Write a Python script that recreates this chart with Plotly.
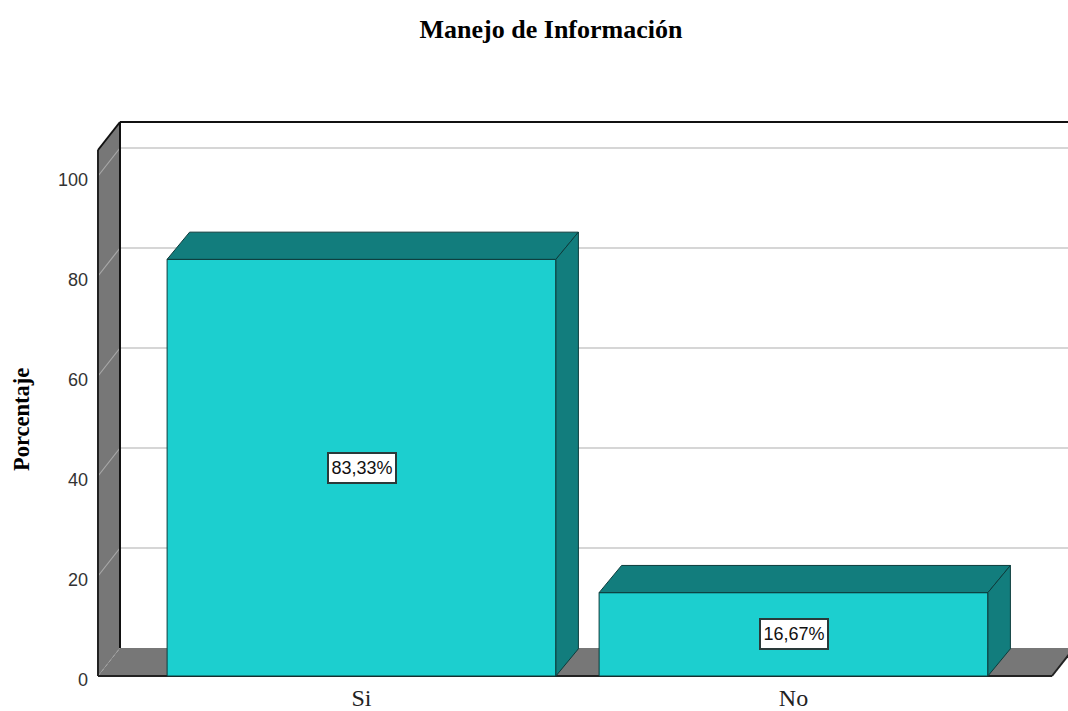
import plotly.graph_objects as go

# Data
title = "Manejo de Información"
y_title = "Porcentaje"
categories = ["Si", "No"]
positions = [0, 1]
values = [83.33, 16.67]
labels = ["83,33%", "16,67%"]
y_ticks = [0, 20, 40, 60, 80, 100]

# Style and scale
W, H = 1068, 711
PX_X = 432.0          # px per category
PX_Y = 5.0            # px per percent
X0_PX, Y0_PX = 361.5, 676.0
LEFT, RIGHT = 96.0, 1068.0
TOP, BOTTOM = 120.0, 681.0
DX = 22.5 / PX_X
DY = 27.2 / PX_Y       # depth of the bars
WALL_DX = 22 / PX_X
WALL_DY = 28 / PX_Y    # depth of the walls and floor
BAR_W = 0.9
FRONT, DARK = "#1ccfcf", "#127d7d"
GREY, GRID, EDGE = "#777777", "#c9c9c9", "#0c3c3c"
WALL_GRID = "#a8a8a8"

def px_x(p):
    return (p - X0_PX) / PX_X

x_min, x_max = px_x(LEFT), px_x(RIGHT)
y_min, y_max = (Y0_PX - BOTTOM) / PX_Y, (Y0_PX - TOP) / PX_Y
wall_x = px_x(98)
floor_end = px_x(1052)

def path(points):
    return "M " + " L ".join(f"{a},{b}" for a, b in points) + " Z"

def poly(points, fill, color="#000000", width=1):
    return dict(type="path", path=path(points), xref="x", yref="y", layer="below",
                fillcolor=fill, line=dict(color=color, width=width))

def seg(x1, y1, x2, y2, color, width=1.5, dash="solid"):
    return dict(type="line", x0=x1, y0=y1, x1=x2, y1=y2, xref="x", yref="y", layer="below",
                line=dict(color=color, width=width, dash=dash))

top_front = y_ticks[-1] + 5.2
back_x = wall_x + WALL_DX
shapes = [
    poly([(wall_x, 0), (back_x, WALL_DY), (back_x, top_front + WALL_DY), (wall_x, top_front)], GREY, GREY, 0),
    poly([(wall_x, 0), (back_x, WALL_DY), (floor_end + WALL_DX, WALL_DY), (floor_end, 0)], GREY, GREY, 0),
]
for t in y_ticks[1:]:
    shapes.append(seg(back_x, t + WALL_DY, x_max, t + WALL_DY, GRID, 1.5))
    shapes.append(seg(wall_x, t, back_x, t + WALL_DY, WALL_GRID, 1.2))
shapes += [
    seg(wall_x, 0, back_x, WALL_DY, WALL_GRID, 1, "dot"),
    seg(back_x, top_front + WALL_DY, x_max, top_front + WALL_DY, "#111111", 2),
    seg(back_x, WALL_DY, back_x, top_front + WALL_DY, "#111111", 2),
    seg(wall_x, 0, wall_x, top_front, "#222222", 2),
    seg(wall_x, top_front, back_x, top_front + WALL_DY, "#111111", 2),
    seg(wall_x, 0, floor_end, 0, "#222222", 2),
    seg(floor_end, 0, floor_end + WALL_DX, WALL_DY, "#222222", 2),
]

fig = go.Figure()
fig.add_trace(go.Bar(x=positions, y=values, width=BAR_W,
                     marker=dict(color=FRONT, line=dict(color=EDGE, width=1)),
                     hoverinfo="skip", showlegend=False))

for p, v in zip(positions, values):
    l, r = p - BAR_W / 2, p + BAR_W / 2
    top = [(l, v), (l + DX, v + DY), (r + DX, v + DY), (r, v), (l, v)]
    side = [(r, 0), (r + DX, DY), (r + DX, v + DY), (r, v), (r, 0)]
    for pts in (top, side):
        fig.add_trace(go.Scatter(x=[a for a, _ in pts], y=[b for _, b in pts], mode="lines",
                                 fill="toself", fillcolor=DARK,
                                 line=dict(color=EDGE, width=1),
                                 hoverinfo="skip", showlegend=False))

annotations = [
    dict(x=p, y=v / 2, xref="x", yref="y", text=t, showarrow=False,
         width=64, height=26, align="center", valign="middle",
         font=dict(family="Liberation Sans", size=18, color="#111111"),
         bgcolor="#ffffff", bordercolor="#2a3a3a", borderwidth=2, borderpad=1)
    for p, v, t in zip(positions, values, labels)
]
annotations.append(dict(x=(22 - LEFT) / (RIGHT - LEFT), y=(BOTTOM - 420) / (BOTTOM - TOP),
                        xref="paper", yref="paper", text=f"<b>{y_title}</b>",
                        showarrow=False, textangle=-90, xanchor="center", yanchor="middle",
                        font=dict(family="Liberation Serif", size=22.5, color="#000000")))

fig.update_layout(
    width=W, height=H, autosize=False,
    margin=dict(l=LEFT, r=W - RIGHT, t=TOP, b=H - BOTTOM, pad=0, autoexpand=False),
    paper_bgcolor="#ffffff", plot_bgcolor="#ffffff",
    showlegend=False, barmode="overlay",
    title=dict(text=f"<b>{title}</b>", x=551 / W, xanchor="center", y=1 - 29 / H, yanchor="middle",
               font=dict(family="Liberation Serif", size=26, color="#000000")),
    xaxis=dict(range=[x_min, x_max], tickmode="array", tickvals=positions, ticktext=categories,
               automargin=False,
               showgrid=False, zeroline=False, showline=False, ticks="", ticklabelstandoff=0,
               tickfont=dict(family="Liberation Serif", size=24, color="#222222")),
    yaxis=dict(range=[y_min, y_max], tickmode="array", tickvals=y_ticks,
               automargin=False,
               showgrid=False, zeroline=False, showline=False, ticks="", ticklabelstandoff=7,
               ticklabelshift=4,
               tickfont=dict(family="Liberation Sans", size=18, color="#333333")),
    shapes=shapes,
    annotations=annotations,
)

fig.write_html("out.html", post_script="document.body.style.margin='0';",
               config={"displayModeBar": False})
